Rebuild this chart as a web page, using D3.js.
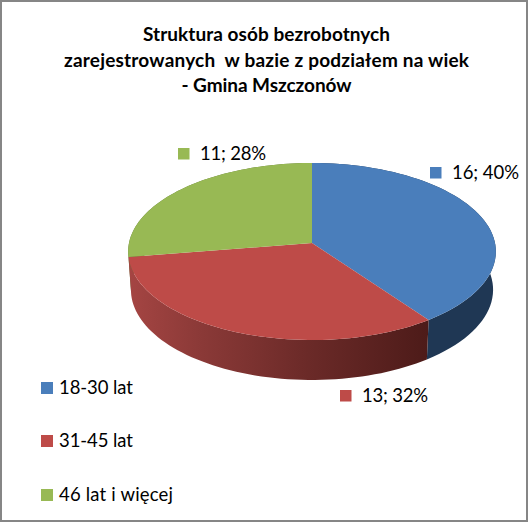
<!DOCTYPE html>
<html><head><meta charset="utf-8">
<style>html,body{margin:0;padding:0;background:#fff}svg{display:block}</style>
<script src="https://cdnjs.cloudflare.com/ajax/libs/d3/7.8.5/d3.min.js"></script>
</head><body><svg id="c" width="528" height="522"></svg>
<script>
const categories = ["18-30 lat","31-45 lat","46 lat i więcej"];
const values = [16,13,11];
const percents = ["40%","32%","28%"];
const titleLines = ["Struktura osób bezrobotnych","zarejestrowanych  w bazie z podziałem na wiek","- Gmina Mszczonów"];
const topColors = ["#4a7ebb","#be4b48","#98b954"];
const labelPos = [[430,167],[340,390],[178,148]];
const labelWidth = [67,66,66];
const legendY = [382,435,489];
const legendWidth = [74,74,114];
const titleY = [41,67,92];
const titleWidth = [247,405,170];

const svg = d3.select("#c");
const W=528,H=522;
svg.append("rect").attr("x",1).attr("y",1).attr("width",W-2).attr("height",H-2).attr("fill","#fff").attr("stroke","#868686").attr("stroke-width",2);

const defs = svg.append("defs");
const g1 = defs.append("linearGradient").attr("id","wall1").attr("gradientUnits","userSpaceOnUse").attr("x1",128).attr("x2",428).attr("y1",0).attr("y2",0);
[[0,"#a54543"],[0.25,"#8a3937"],[0.6,"#6b2a28"],[1,"#4d1b19"]].forEach(s=>g1.append("stop").attr("offset",s[0]).attr("stop-color",s[1]));

// projective mapping of the unit disc to the tilted pie
const cx=312,cy=243,bx=183,ay=87.7,k=0.096;
const proj=(t)=>{const u=Math.sin(t),v=-Math.cos(t),w=1-k*v;return [cx+bx*u/w,cy+ay*v/w];};
// lower rim of the pie: slightly narrower and deeper
const lower=p=>[cx+(p[0]-cx)*0.985,cy+38+(p[1]-cy)*1.02];
const pie=d3.pie().sort(null).value(d=>d);
const arcs=pie(values);
const line=d3.line();
const sample=(a,b)=>d3.range(0,61).map(i=>a+(b-a)*i/60);

const wallColors=["#1f3754","url(#wall1)","#5f7336"];
[2,0,1].forEach(i=>{
  const a=arcs[i];
  const top=sample(a.startAngle,a.endAngle).map(proj);
  const bottom=top.map(lower).reverse();
  svg.append("path").attr("d",line(top.concat(bottom))+"Z").attr("fill",wallColors[i]);
});
arcs.forEach((a,i)=>{
  const pts=[[cx,cy]].concat(sample(a.startAngle,a.endAngle).map(proj));
  svg.append("path").attr("d",line(pts)+"Z").attr("fill",topColors[i]);
});

const font="Lato, Carlito, sans-serif";
const title=svg.append("g").attr("font-family",font).attr("font-weight",700).attr("font-size",19).attr("text-anchor","middle").attr("fill","#000");
titleLines.forEach((t,i)=>title.append("text").attr("x",266.5).attr("y",titleY[i]).attr("textLength",titleWidth[i]).style("white-space","pre").text(t));

arcs.forEach((a,i)=>{
  const [x,y]=labelPos[i];
  svg.append("rect").attr("x",x).attr("y",y).attr("width",11.5).attr("height",11.5).attr("fill",topColors[i]);
  svg.append("text").attr("x",x+22).attr("y",y+12).attr("font-family",font).attr("font-size",18.5).attr("fill","#000").attr("textLength",labelWidth[i]).text(values[i]+"; "+percents[i]);
});
categories.forEach((c,i)=>{
  svg.append("rect").attr("x",41).attr("y",legendY[i]).attr("width",12).attr("height",12).attr("fill",topColors[i]);
  svg.append("text").attr("x",59).attr("y",legendY[i]+12).attr("font-family",font).attr("font-size",18.5).attr("fill","#000").attr("textLength",legendWidth[i]).text(c);
});
</script></body></html>
